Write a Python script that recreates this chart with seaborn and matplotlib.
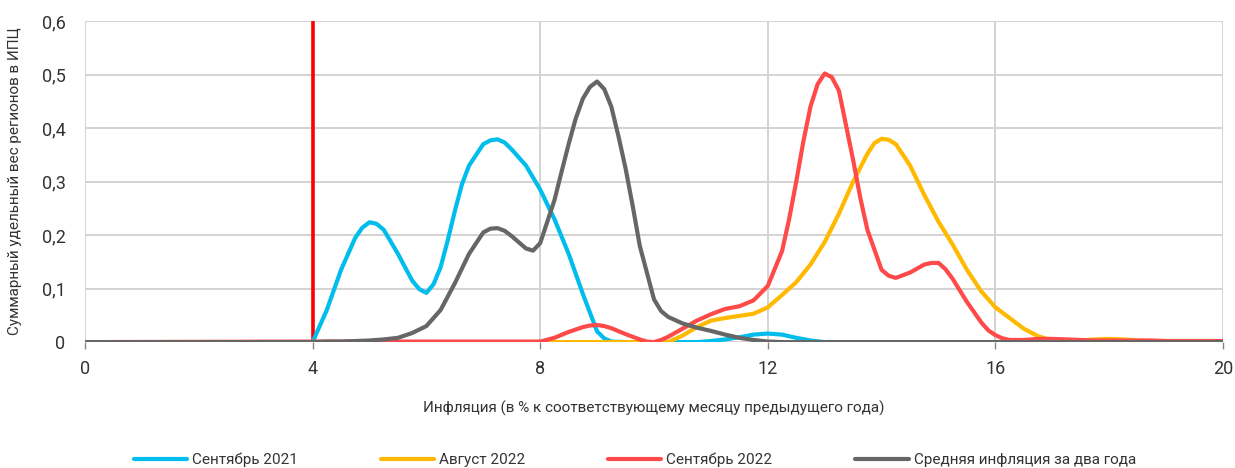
import numpy as np
import pandas as pd
import matplotlib
matplotlib.use("Agg")
import matplotlib.pyplot as plt
import seaborn as sns

# ---------------- data ----------------
# base grid: 0, then 4.00 ... 20.00 every 0.25
x_vals = [0.0] + list(np.arange(4.0, 20.001, 0.25))

sep2021 = [0,
    0.000, 0.060, 0.135, 0.195, 0.224, 0.210, 0.165, 0.115,   # 4.00-5.75
    0.092, 0.140, 0.245, 0.330, 0.370, 0.379, 0.360, 0.330,   # 6.00-7.75
    0.285, 0.230, 0.165, 0.090, 0.020, 0.001, 0.000, 0.000,   # 8.00-9.75
    0.000, 0.000, 0.000, 0.000, 0.002, 0.005, 0.009, 0.014,   # 10.00-11.75
    0.016, 0.014, 0.008, 0.003, 0.000, 0.000, 0.000, 0.000,   # 12.00-13.75
    0.000, 0.000, 0.000, 0.000, 0.000, 0.000, 0.000, 0.000,   # 14.00-15.75
    0.000, 0.000, 0.000, 0.000, 0.000, 0.000, 0.000, 0.000,   # 16.00-17.75
    0.000, 0.000, 0.000, 0.000, 0.000, 0.000, 0.000, 0.000,   # 18.00-19.75
    0.000]                                                    # 20.00
sep2021_extra_x = [4.125, 4.875, 5.125, 5.875, 6.125, 6.375, 6.625, 7.125, 7.375, 9.125]
sep2021_extra_y = [0.030, 0.214, 0.221, 0.099, 0.108, 0.190, 0.295, 0.377, 0.373, 0.007]

aug2022 = [0,
    0.000, 0.000, 0.000, 0.000, 0.000, 0.000, 0.000, 0.000,
    0.000, 0.000, 0.000, 0.000, 0.000, 0.000, 0.000, 0.000,
    0.000, 0.000, 0.000, 0.000, 0.000, 0.000, 0.000, 0.000,
    0.000, 0.000, 0.012, 0.028, 0.040, 0.045, 0.049, 0.053,
    0.065, 0.088, 0.112, 0.145, 0.187, 0.240, 0.300, 0.352,
    0.380, 0.370, 0.330, 0.275, 0.225, 0.182, 0.135, 0.095,
    0.065, 0.045, 0.025, 0.011, 0.004, 0.002, 0.003, 0.005,
    0.006, 0.005, 0.003, 0.002, 0.002, 0.002, 0.002, 0.002,
    0.002]
aug2022_extra_x = [13.875, 14.125, 16.875]
aug2022_extra_y = [0.372, 0.378, 0.007]

sep2022 = [0,
    0.001, 0.001, 0.001, 0.001, 0.001, 0.001, 0.001, 0.001,
    0.001, 0.001, 0.001, 0.001, 0.001, 0.001, 0.001, 0.001,
    0.001, 0.008, 0.019, 0.028, 0.032, 0.026, 0.015, 0.005,
    0.000, 0.010, 0.025, 0.040, 0.052, 0.062, 0.067, 0.078,
    0.105, 0.170, 0.300, 0.440, 0.502, 0.470, 0.340, 0.210,
    0.135, 0.120, 0.130, 0.145, 0.148, 0.118, 0.075, 0.037,
    0.013, 0.004, 0.004, 0.006, 0.006, 0.005, 0.004, 0.003,
    0.003, 0.003, 0.003, 0.003, 0.002, 0.002, 0.002, 0.002,
    0.002]
sep2022_extra_x = [8.875, 9.125, 9.875, 10.125, 12.375, 12.625, 12.875, 13.125,
                   13.375, 13.625, 14.125, 14.875, 15.125, 15.875, 16.125]
sep2022_extra_y = [0.031, 0.030, 0.001, 0.004, 0.230, 0.375, 0.482, 0.495,
                   0.405, 0.270, 0.124, 0.148, 0.136, 0.022, 0.007]

avg2y = [0,
    0.000, 0.001, 0.001, 0.002, 0.003, 0.005, 0.008, 0.017,
    0.030, 0.060, 0.110, 0.165, 0.205, 0.213, 0.198, 0.175,
    0.185, 0.265, 0.370, 0.455, 0.487, 0.440, 0.325, 0.180,
    0.080, 0.047, 0.035, 0.027, 0.021, 0.014, 0.008, 0.004,
    0.001, 0.000, 0.000, 0.000, 0.000, 0.000, 0.000, 0.000,
    0.000, 0.000, 0.000, 0.000, 0.000, 0.000, 0.000, 0.000,
    0.000, 0.000, 0.000, 0.000, 0.000, 0.000, 0.000, 0.000,
    0.000, 0.000, 0.000, 0.000, 0.000, 0.000, 0.000, 0.000,
    0.000]
avg2y_extra_x = [7.125, 7.375, 7.875, 8.375, 8.625, 8.875, 9.125, 9.375, 9.625, 10.125]
avg2y_extra_y = [0.212, 0.208, 0.171, 0.318, 0.418, 0.477, 0.473, 0.385, 0.255, 0.058]

series_names = ["Сентябрь 2021", "Август 2022", "Сентябрь 2022",
                "Средняя инфляция за два года"]
series_vals = [sep2021, aug2022, sep2022, avg2y]
series_extra = [(sep2021_extra_x, sep2021_extra_y),
                (aug2022_extra_x, aug2022_extra_y),
                (sep2022_extra_x, sep2022_extra_y),
                (avg2y_extra_x, avg2y_extra_y)]
colors = ["#00BDEB", "#FFB900", "#FF4A4A", "#666666"]

target = 4
x_ticks = [0, 4, 8, 12, 16, 20]
y_ticks = [0, 0.1, 0.2, 0.3, 0.4, 0.5, 0.6]
y_ticklabels = ["0", "0,1", "0,2", "0,3", "0,4", "0,5", "0,6"]
xlabel = "Инфляция (в % к соответствующему месяцу предыдущего года)"
ylabel = "Суммарный удельный вес регионов в ИПЦ"

# ---------------- style ----------------
sns.set_theme(style="white")
plt.rcParams["font.family"] = ["Roboto", "DejaVu Sans"]

rows = []
for name, vals, (ex, ey) in zip(series_names, series_vals, series_extra):
    for xv, yv in list(zip(x_vals, vals)) + list(zip(ex, ey)):
        rows.append({"x": xv, "y": yv, "series": name})
df = pd.DataFrame(rows).sort_values(["series", "x"])

fig = plt.figure(figsize=(12.35, 4.68), dpi=100)
ax = fig.add_axes([0.0688, 0.269, 0.9215, 0.686])

sns.lineplot(data=df, x="x", y="y", hue="series", hue_order=series_names,
             palette=colors, linewidth=3.0, ax=ax, legend=True, zorder=3,
             solid_joinstyle="round", solid_capstyle="round")

ax.axvline(target, color="#FF0000", lw=2.6, zorder=2.5)

ax.set_xlim(0, 20)
ax.set_ylim(0, 0.6)
ax.set_xticks(x_ticks)
ax.set_xticklabels([str(t) for t in x_ticks])
ax.set_yticks(y_ticks)
ax.set_yticklabels(y_ticklabels)
ax.grid(True, color="#D3D3D3", lw=1.4)
ax.set_axisbelow(True)
for s in ax.spines.values():
    s.set_visible(False)
ax.tick_params(axis="x", which="both", bottom=True, length=5, width=1,
               color="#888888", labelsize=13, pad=8, labelcolor="#333333")
ax.tick_params(axis="y", left=False, labelsize=13, pad=8, labelcolor="#333333")
ax.set_xlabel(xlabel, fontsize=11, color="#333333", labelpad=16)
ax.set_ylabel(ylabel, fontsize=11, color="#333333", labelpad=14)

handles, labels = ax.get_legend_handles_labels()
ax.get_legend().remove()
fig.legend(handles, labels, loc="center", bbox_to_anchor=(0.514, 0.017),
           ncol=4, frameon=False, fontsize=11, handlelength=3.5,
           columnspacing=5.4, handletextpad=0.33, labelcolor="#333333")

fig.savefig("out.png", dpi=100)
